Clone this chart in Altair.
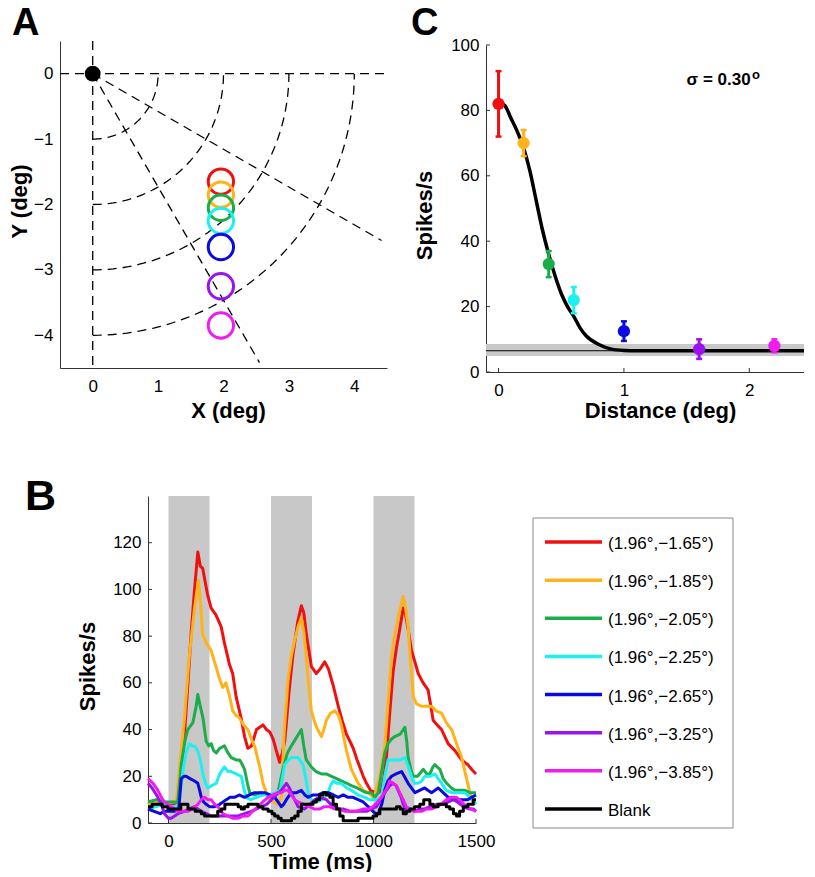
import altair as alt
import numpy as np
import pandas as pd

FONT = "Liberation Sans"

# ---------------- shared series ----------------
series_labels = ["(1.96°,−1.65°)", "(1.96°,−1.85°)", "(1.96°,−2.05°)", "(1.96°,−2.25°)",
                 "(1.96°,−2.65°)", "(1.96°,−3.25°)", "(1.96°,−3.85°)", "Blank"]
series_colors = ["#f01010", "#ffb31a", "#1aad4a", "#1cf0f0", "#0a0ae0", "#9a12ee", "#f01cf0", "#000000"]

# ---------------- panel A ----------------
probe_x = [1.96, 1.96, 1.96, 1.96, 1.96, 1.96, 1.96]
probe_y = [-1.65, -1.85, -2.05, -2.25, -2.65, -3.25, -3.85]
fix_x = [0.0]
fix_y = [0.0]
arc_radii = [1, 2, 3, 4]
ray_angles_deg = [-30, -60]
ray_length = 5.1
A_xticks = [0, 1, 2, 3, 4]
A_yticks = [0, -1, -2, -3, -4]

# ---------------- panel C ----------------
dist = [0.0, 0.2, 0.4, 0.6, 1.0, 1.6, 2.2]
rate_mean = [82, 70, 33, 22, 12.5, 7, 8]
rate_lo = [72, 66, 29, 18, 9.5, 4, 6]
rate_hi = [92, 74, 37, 26, 15.5, 10, 10]
fit_d = [0, 0.05, 0.1, 0.15, 0.2, 0.25, 0.3, 0.35, 0.4, 0.45, 0.5, 0.55, 0.6, 0.65, 0.7, 0.8, 0.9, 1.0, 1.1, 1.2, 1.5, 2.0, 2.5]
fit_v = [82.5, 81.5, 77.5, 73.5, 68.5, 61.5, 52.5, 43.5, 36, 29.5, 24, 20, 17, 13.5, 11, 8.4, 7, 6.6, 6.5, 6.5, 6.5, 6.5, 6.5]
blank_mean = 6.5
blank_lo = 4.9
blank_hi = 8.6
C_xticks = [0, 1, 2]
C_yticks = [0, 20, 40, 60, 80, 100]

# ---------------- panel B ----------------
stim_on = [0, 500, 1000]
stim_off = [200, 700, 1200]
B_xticks = [0, 500, 1000, 1500]
B_yticks = [0, 20, 40, 60, 80, 100, 120]

red_trace = [[-100, 9], [-60, 8], [-20, 9], [20, 8], [45, 9], [60, 18], [78, 38], [95, 60], [111, 82], [127, 100],
             [143, 116], [155, 110], [167, 109], [190, 98], [208, 92], [232, 89], [257, 84], [273, 77], [297, 68],
             [313, 64], [330, 54], [354, 45], [371, 37], [387, 32], [405, 33], [429, 40], [445, 41], [461, 42],
             [478, 40], [494, 39], [510, 36], [526, 31], [542, 26], [555, 30], [567, 35], [590, 58], [607, 72],
             [630, 86], [648, 93], [660, 90], [672, 81], [697, 67], [721, 64], [740, 66], [762, 69], [780, 66],
             [803, 59], [828, 50], [850, 43], [868, 38], [885, 35], [901, 32], [920, 27], [933, 24], [950, 20],
             [966, 17], [985, 14], [1007, 13], [1025, 13], [1039, 14], [1052, 20], [1064, 29], [1080, 48],
             [1096, 65], [1112, 75], [1128, 83], [1145, 92], [1155, 90], [1169, 83], [1185, 74], [1202, 69],
             [1218, 64], [1242, 60], [1266, 57], [1280, 50], [1291, 44], [1310, 42], [1332, 40], [1364, 34],
             [1397, 31], [1430, 27], [1460, 25], [1478, 23], [1500, 21]]
orange_trace = [[-100, 8], [-60, 9], [-20, 8], [20, 9], [38, 9], [55, 25], [78, 45], [100, 70], [127, 92],
                [146, 104], [158, 92], [166, 81], [185, 77], [207, 74], [228, 68], [248, 62], [265, 58], [280, 60],
                [296, 55], [313, 48], [330, 46], [346, 45], [366, 42], [387, 40], [408, 35], [420, 33], [445, 24],
                [461, 17], [485, 11], [510, 9], [534, 8], [550, 11], [565, 40], [583, 61], [600, 72], [615, 78],
                [632, 84], [648, 88], [660, 82], [672, 71], [685, 58], [697, 48], [710, 44], [722, 41], [746, 37],
                [758, 40], [770, 44], [790, 47], [811, 48], [830, 46], [843, 42], [868, 31], [892, 23], [925, 17],
                [950, 14], [974, 13], [998, 11], [1006, 12], [1030, 20], [1055, 33], [1070, 50], [1088, 71],
                [1104, 81], [1120, 88], [1145, 97], [1155, 93], [1169, 84], [1180, 70], [1194, 54], [1210, 51],
                [1234, 50], [1260, 50], [1283, 50], [1305, 48], [1332, 47], [1355, 43], [1381, 40], [1405, 34],
                [1430, 28], [1446, 22], [1462, 16], [1478, 10], [1500, 8]]
green_trace = [[-100, 9], [-60, 10], [-20, 9], [20, 9], [45, 9], [62, 25], [80, 35], [94, 40], [119, 43],
               [135, 50], [143, 55], [155, 50], [168, 45], [184, 35], [196, 33], [208, 34], [220, 31], [233, 30],
               [250, 32], [273, 33], [290, 30], [306, 28], [330, 27], [347, 27], [360, 25], [371, 23], [385, 17],
               [396, 13], [420, 12], [450, 13], [480, 12], [510, 11], [534, 13], [558, 23], [580, 30], [599, 33],
               [620, 36], [648, 40], [660, 33], [672, 27], [697, 24], [720, 22], [746, 21], [770, 21], [795, 20],
               [820, 19], [843, 18], [870, 17], [892, 16], [920, 15], [941, 14], [965, 13], [990, 13], [1007, 11],
               [1023, 13], [1040, 22], [1055, 30], [1071, 34], [1088, 36], [1104, 37], [1130, 38], [1153, 41],
               [1162, 35], [1169, 28], [1185, 22], [1194, 20], [1215, 20], [1243, 23], [1260, 21], [1275, 21],
               [1290, 24], [1299, 25], [1310, 24], [1324, 23], [1340, 19], [1357, 17], [1380, 15], [1397, 14],
               [1420, 14], [1446, 14], [1470, 13], [1500, 13]]
cyan_trace = [[-100, 6], [-60, 7], [-20, 8], [20, 7], [50, 7], [70, 22], [85, 30], [103, 34], [115, 33], [127, 33],
              [143, 31], [155, 27], [168, 21], [180, 17], [192, 15], [210, 16], [233, 17], [250, 21], [273, 24],
              [290, 22], [306, 22], [330, 21], [355, 20], [367, 15], [379, 11], [400, 10], [430, 11], [460, 12],
              [490, 12], [520, 13], [545, 14], [567, 25], [585, 27], [599, 28], [632, 28], [656, 25], [670, 19],
              [681, 13], [697, 10], [720, 9], [750, 10], [779, 13], [790, 16], [803, 18], [820, 17], [843, 17],
              [870, 15], [892, 14], [925, 12], [957, 11], [980, 10], [998, 10], [1020, 10], [1039, 11], [1055, 20],
              [1071, 27], [1088, 27], [1104, 27], [1130, 27], [1153, 28], [1170, 24], [1185, 20], [1200, 17],
              [1218, 17], [1235, 18], [1250, 20], [1275, 20], [1299, 21], [1315, 19], [1332, 17], [1355, 14],
              [1381, 13], [1413, 13], [1446, 13], [1470, 11], [1500, 8]]
blue_trace = [[-100, 6], [-70, 5], [-40, 4], [-20, 5], [0, 5], [30, 5], [50, 6], [62, 19], [75, 20], [86, 20],
              [105, 19], [127, 18], [143, 17], [152, 14], [160, 11], [172, 9], [184, 8], [200, 7], [225, 7],
              [250, 8], [282, 10], [300, 11], [322, 11], [345, 12], [371, 11], [395, 12], [420, 13], [445, 13],
              [469, 13], [495, 12], [518, 11], [535, 9], [550, 7], [562, 8], [575, 10], [599, 13], [625, 13],
              [648, 14], [665, 12], [681, 11], [705, 12], [730, 12], [755, 13], [779, 13], [805, 12], [828, 11],
              [852, 12], [876, 11], [900, 11], [925, 10], [950, 9], [974, 7], [998, 5], [1010, 4], [1023, 4],
              [1040, 8], [1055, 14], [1070, 18], [1088, 20], [1110, 21], [1137, 22], [1150, 20], [1169, 17],
              [1185, 15], [1202, 13], [1225, 14], [1250, 15], [1265, 14], [1283, 13], [1300, 14], [1316, 15],
              [1340, 13], [1365, 11], [1390, 10], [1413, 10], [1440, 10], [1460, 10], [1478, 11], [1500, 12]]
purple_trace = [[-100, 17], [-80, 15], [-52, 11], [-35, 8], [-20, 4], [0, 2], [13, 2], [30, 3], [46, 4], [78, 5],
                [100, 6], [127, 7], [143, 6], [160, 5], [185, 4], [208, 3], [240, 3], [273, 3], [305, 3],
                [339, 3], [370, 4], [404, 5], [430, 6], [453, 7], [480, 8], [502, 10], [525, 12], [550, 14],
                [575, 17], [590, 15], [599, 13], [615, 10], [632, 7], [664, 6], [689, 8], [715, 10], [738, 11],
                [770, 10], [803, 7], [830, 6], [852, 6], [884, 5], [917, 5], [950, 5], [966, 5], [990, 6],
                [1014, 7], [1040, 11], [1063, 14], [1080, 16], [1096, 17], [1110, 16], [1120, 14], [1135, 11],
                [1145, 8], [1160, 6], [1177, 6], [1200, 5], [1226, 6], [1250, 6], [1275, 7], [1307, 8], [1340, 8],
                [1365, 9], [1389, 10], [1410, 9], [1438, 7], [1465, 6], [1487, 6], [1500, 5]]
magenta_trace = [[-100, 19], [-75, 17], [-52, 14], [-35, 11], [-20, 9], [13, 7], [46, 5], [70, 5], [94, 5],
                 [115, 6], [143, 8], [160, 10], [176, 11], [192, 10], [208, 10], [225, 8], [241, 7], [265, 4],
                 [290, 3], [315, 2], [339, 2], [365, 3], [388, 3], [410, 5], [437, 7], [460, 9], [486, 11],
                 [510, 12], [534, 13], [550, 13], [567, 14], [583, 14], [599, 12], [615, 10], [632, 9], [660, 8],
                 [689, 7], [710, 6], [738, 6], [760, 7], [787, 7], [810, 6], [836, 6], [860, 5], [884, 5],
                 [915, 5], [950, 6], [975, 6], [998, 7], [1020, 9], [1039, 11], [1060, 14], [1079, 18], [1095, 17],
                 [1112, 16], [1128, 13], [1145, 10], [1160, 7], [1177, 6], [1195, 5], [1210, 5], [1235, 5],
                 [1258, 6], [1283, 6], [1307, 7], [1330, 8], [1356, 10], [1380, 11], [1405, 11], [1430, 9],
                 [1454, 7], [1475, 6], [1500, 5]]
blank_trace = [[-100, 7], [-80, 8], [-52, 8], [-30, 7], [-3, 6], [20, 6], [46, 6], [60, 8], [78, 8], [95, 6],
               [111, 6], [130, 5], [143, 5], [160, 4], [176, 3], [200, 3], [225, 3], [240, 5], [257, 6], [275, 8],
               [290, 8], [322, 8], [340, 7], [355, 6], [370, 7], [388, 8], [410, 8], [437, 7], [460, 6], [486, 5],
               [505, 4], [518, 3], [535, 2], [550, 1], [583, 1], [600, 2], [616, 3], [632, 5], [648, 8], [670, 8],
               [689, 8], [705, 9], [721, 10], [737, 12], [754, 13], [770, 12], [787, 11], [803, 8], [820, 6],
               [836, 3], [852, 1], [880, 1], [901, 1], [925, 2], [950, 2], [975, 2], [998, 3], [1015, 4],
               [1031, 6], [1055, 6], [1079, 6], [1100, 6], [1112, 7], [1130, 6], [1145, 4], [1160, 5], [1177, 6],
               [1200, 7], [1226, 8], [1245, 10], [1258, 10], [1275, 8], [1291, 7], [1315, 8], [1340, 8],
               [1355, 7], [1372, 6], [1390, 4], [1405, 3], [1420, 5], [1438, 7], [1460, 8], [1487, 10], [1500, 10]]
all_traces = [red_trace, orange_trace, green_trace, cyan_trace, blue_trace, purple_trace, magenta_trace, blank_trace]
trace_interp = ["linear"] * 7 + ["step-after"]

one = pd.DataFrame({"k": [0]})
AXIS_COLOR = "#333333"
TICK_LEN = 4

COL1_W = 416   # column holding panels A and B
B_OFF = 88     # B's plot starts this far right of A's plot
COL_GAP = 10

# ======================= PANEL A =======================
A_W, A_H = 327, 327
scaleAx = alt.Scale(domain=[-0.5, 4.5], range=[0, A_W], nice=False, zero=False)
scaleAy = alt.Scale(domain=[-4.5, 0.5], nice=False, zero=False)
axisAx = alt.Axis(values=A_xticks, format="d", title="X (deg)", titleX=168, titleY=49, titleAlign="center",
                  titleBaseline="alphabetic", labelFlush=False)
axisAy = alt.Axis(values=A_yticks, format="d", title="Y (deg)", titleX=-34, titleY=160, titleAngle=270,
                  titleAlign="center", titleBaseline="alphabetic")


def xA(f):
    return alt.X(f, scale=scaleAx, axis=axisAx)


def yA(f):
    return alt.Y(f, scale=scaleAy, axis=axisAy)


grid_rows = []
for r in arc_radii:
    for k, th in enumerate(np.linspace(-np.pi / 2, 0, 61)):
        grid_rows.append({"g": f"arc{r}", "o": k, "x": r * np.cos(th), "y": r * np.sin(th)})
for a in ray_angles_deg:
    th = np.radians(a)
    grid_rows.append({"g": f"ray{a}", "o": 0, "x": 0.0, "y": 0.0})
    grid_rows.append({"g": f"ray{a}", "o": 1, "x": ray_length * np.cos(th), "y": ray_length * np.sin(th)})
grid_df = pd.DataFrame(grid_rows)

dash = [9, 6]
gridA = alt.Chart(grid_df).mark_line(color="black", strokeWidth=1.3, strokeDash=dash).encode(
    x=xA("x:Q"), y=yA("y:Q"), detail="g:N", order="o:Q")
hruleA = alt.Chart(one).mark_rule(color="black", strokeWidth=1.3, strokeDash=dash).encode(
    y=alt.datum(0), x=alt.value(0), x2=alt.value(A_W))
vruleA = alt.Chart(one).mark_rule(color="black", strokeWidth=1.3, strokeDash=dash).encode(x=alt.datum(0))
probe_df = pd.DataFrame({"x": probe_x, "y": probe_y, "c": series_colors[:7]})
probesA = alt.Chart(probe_df).mark_point(shape="circle", filled=False, size=640, strokeWidth=3, opacity=1).encode(
    x=xA("x:Q"), y=yA("y:Q"), color=alt.Color("c:N", scale=None))
fix_df = pd.DataFrame({"x": fix_x, "y": fix_y})
fixA = alt.Chart(fix_df).mark_point(shape="circle", filled=True, size=250, color="black", opacity=1).encode(
    x=xA("x:Q"), y=yA("y:Q"))
labelA = alt.Chart(one).mark_text(text="A", font=FONT, fontSize=38, fontWeight="bold", align="left",
                                  baseline="alphabetic", color="black").encode(x=alt.value(-48), y=alt.value(-6))
anchorA = alt.Chart(one).mark_rule(opacity=0, strokeWidth=0.01).encode(
    x=alt.value(-52), x2=alt.value(-52), y=alt.value(-33), y2=alt.value(-33))
panelA = alt.layer(gridA, hruleA, vruleA, probesA, fixA, labelA, anchorA).properties(width=COL1_W, height=A_H)

# ======================= PANEL C =======================
C_W, C_H = 326, 331
scaleCx = alt.Scale(domain=[-0.1, 2.5], nice=False, zero=False)
scaleCy = alt.Scale(domain=[0, 100], range=[331, 4], nice=False, zero=False)
axisCx = alt.Axis(values=C_xticks, title="Distance (deg)", titleX=174, titleY=45, titleAlign="center",
                  titleBaseline="alphabetic", labelFlush=False)
axisCy = alt.Axis(values=C_yticks, title="Spikes/s", titleX=-55, titleY=174, titleAngle=270,
                  titleAlign="center", titleBaseline="alphabetic")


def xC(f):
    return alt.X(f, scale=scaleCx, axis=axisCx)


def yC(f):
    return alt.Y(f, scale=scaleCy, axis=axisCy)


band_df = pd.DataFrame({"lo": [blank_lo], "hi": [blank_hi]})
bandC = alt.Chart(band_df).mark_rect(color="#c8c8c8").encode(
    x=alt.value(0), x2=alt.value(C_W), y=yC("lo:Q"), y2="hi:Q")
baseC = alt.Chart(one).mark_rule(color="black", strokeWidth=1).encode(
    y=alt.datum(blank_mean), x=alt.value(0), x2=alt.value(C_W))
fit_df = pd.DataFrame({"d": fit_d, "v": fit_v})
fitC = alt.Chart(fit_df).mark_line(color="black", strokeWidth=3.5, interpolate="monotone").encode(
    x=xC("d:Q"), y=yC("v:Q"))
pts_df = pd.DataFrame({"d": dist, "v": rate_mean, "lo": rate_lo, "hi": rate_hi, "c": series_colors[:7]})
errC = alt.Chart(pts_df).mark_rule(strokeWidth=3).encode(
    x=xC("d:Q"), y=yC("lo:Q"), y2="hi:Q", color=alt.Color("c:N", scale=None))
capLoC = alt.Chart(pts_df).mark_tick(orient="horizontal", size=6, thickness=2.5, opacity=1).encode(
    x=xC("d:Q"), y=yC("lo:Q"), color=alt.Color("c:N", scale=None))
capHiC = alt.Chart(pts_df).mark_tick(orient="horizontal", size=6, thickness=2.5, opacity=1).encode(
    x=xC("d:Q"), y=yC("hi:Q"), color=alt.Color("c:N", scale=None))
ptsC = alt.Chart(pts_df).mark_point(shape="circle", filled=True, size=150, opacity=1).encode(
    x=xC("d:Q"), y=yC("v:Q"), color=alt.Color("c:N", scale=None))
sig_df = pd.DataFrame({"d": [1.5], "v": [87.8]})
sigC = alt.Chart(sig_df).mark_text(text="σ = 0.30", font=FONT, fontSize=17, fontWeight="bold", align="left",
                                   baseline="alphabetic", color="black").encode(x=xC("d:Q"), y=yC("v:Q"))
sup_df = pd.DataFrame({"d": [2.021], "v": [89.7]})
supC = alt.Chart(sup_df).mark_text(text="o", font=FONT, fontSize=13, fontWeight="bold", align="left",
                                   baseline="alphabetic", color="black").encode(x=xC("d:Q"), y=yC("v:Q"))
labelC = alt.Chart(one).mark_text(text="C", font=FONT, fontSize=38, fontWeight="bold", align="left",
                                  baseline="alphabetic", color="black").encode(x=alt.value(-75), y=alt.value(-6))
cyt_df = pd.DataFrame({"v": C_yticks})
cytC = alt.Chart(cyt_df).mark_rule(color=AXIS_COLOR, strokeWidth=1).encode(
    x=alt.value(0), x2=alt.value(TICK_LEN), y=yC("v:Q"))
cxt_df = pd.DataFrame({"d": C_xticks})
cxtC = alt.Chart(cxt_df).mark_rule(color=AXIS_COLOR, strokeWidth=1).encode(
    x=xC("d:Q"), y=alt.value(C_H), y2=alt.value(C_H - TICK_LEN))
panelC = alt.layer(bandC, baseC, cytC, cxtC, fitC, errC, capLoC, capHiC, ptsC, sigC, supC, labelC).properties(
    width=C_W, height=C_H)

# ======================= PANEL B =======================
B_W, B_H = 328, 327
scaleBx = alt.Scale(domain=[-100, 1500], range=[B_OFF, B_OFF + B_W], nice=False, zero=False)
scaleBy = alt.Scale(domain=[0, 140], nice=False, zero=False)
axisBx = alt.Axis(values=B_xticks, format="d", title="Time (ms)", titleX=B_OFF + 172, titleY=45,
                  titleAlign="center", titleBaseline="alphabetic", labelFlush=False)
axisBy = alt.Axis(values=B_yticks, title="Spikes/s", titleX=-54, titleY=170, titleAngle=270,
                  titleAlign="center", titleBaseline="alphabetic", offset=-B_OFF)


def xB(f):
    return alt.X(f, scale=scaleBx, axis=axisBx)


def yB(f):
    return alt.Y(f, scale=scaleBy, axis=axisBy)


stim_df = pd.DataFrame({"on": stim_on, "off": stim_off})
stimB = alt.Chart(stim_df).mark_rect(color="#c8c8c8").encode(
    x=xB("on:Q"), x2="off:Q", y=alt.value(0), y2=alt.value(B_H))
byt_df = pd.DataFrame({"v": B_yticks})
bytB = alt.Chart(byt_df).mark_rule(color=AXIS_COLOR, strokeWidth=1).encode(
    x=alt.value(B_OFF), x2=alt.value(B_OFF + TICK_LEN), y=yB("v:Q"))
bxt_df = pd.DataFrame({"t": B_xticks})
bxtB = alt.Chart(bxt_df).mark_rule(color=AXIS_COLOR, strokeWidth=1).encode(
    x=xB("t:Q"), y=alt.value(B_H), y2=alt.value(B_H - TICK_LEN))
line_layers = []
for trace, col, interp in zip(all_traces, series_colors, trace_interp):
    df = pd.DataFrame(trace, columns=["t", "v"])
    line_layers.append(alt.Chart(df).mark_line(color=col, strokeWidth=3, strokeJoin="round",
                                               interpolate=interp).encode(x=xB("t:Q"), y=yB("v:Q")))
labelB = alt.Chart(one).mark_text(text="B", font=FONT, fontSize=43, fontWeight="bold", align="left",
                                  baseline="alphabetic", color="black").encode(
    x=alt.value(B_OFF - 123), y=alt.value(14))
panelB = alt.layer(stimB, bytB, bxtB, *line_layers, labelB).properties(width=COL1_W, height=B_H)

# ======================= LEGEND =======================
L_OFF = 47
L_W, L_H = 200, 332
leg_df = pd.DataFrame({"label": series_labels, "c": series_colors, "idx": list(range(len(series_labels)))})
leg_y = alt.Y("idx:Q", scale=alt.Scale(domain=[0, 7], range=[46, 313]), axis=None)
boxL = alt.Chart(one).mark_rect(fill="white", fillOpacity=0, stroke="#8a8a8a", strokeWidth=1).encode(
    x=alt.value(L_OFF), x2=alt.value(L_OFF + L_W), y=alt.value(22), y2=alt.value(L_H))
rulesL = alt.Chart(leg_df).mark_rule(strokeWidth=3.5).encode(
    x=alt.value(L_OFF + 12), x2=alt.value(L_OFF + 69), y=leg_y, color=alt.Color("c:N", scale=None))
textL = alt.Chart(leg_df).mark_text(font=FONT, fontSize=17, align="left", baseline="middle", dy=2,
                                   color="black").encode(x=alt.value(L_OFF + 75), y=leg_y, text="label:N")
legend = alt.layer(boxL, rulesL, textL).properties(width=L_OFF + L_W, height=L_H)

chart = alt.concat(panelA, panelC, panelB, legend, columns=2, bounds="flush", align="each",
                   spacing={"row": 124, "column": COL_GAP}).properties(
    padding={"left": 0, "top": -3, "right": -15, "bottom": 0}
).configure_view(stroke=None).configure_axis(
    labelFont=FONT, titleFont=FONT, labelFontSize=17, titleFontSize=22, titleFontWeight="bold",
    ticks=False, grid=False, domainColor=AXIS_COLOR, domainWidth=1, labelColor="black", titleColor="black"
).configure_axisX(labelPadding=10).configure_axisY(labelPadding=7)

chart.save("out.html", embed_options={"renderer": "svg", "actions": False})
